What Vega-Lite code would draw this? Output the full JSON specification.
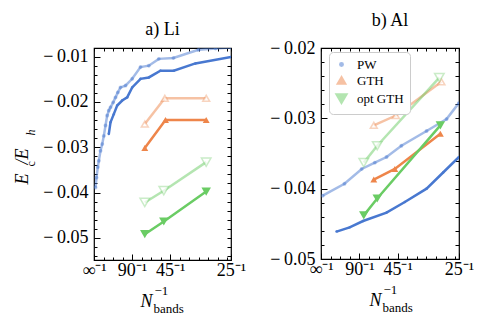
{
  "$schema": "https://vega.github.io/schema/vega-lite/v6.json",
  "padding": {"left": 12, "top": 11, "right": 5, "bottom": 5},
  "spacing": 22,
  "resolve": {"scale": {"color": "independent", "shape": "independent", "size": "independent"}, "legend": {"color": "independent"}},
  "config": {
    "font": "Liberation Serif",
    "view": {"stroke": "black", "strokeWidth": 1.2},
    "title": {"font": "Liberation Serif", "fontSize": 18, "fontWeight": "normal", "color": "black", "frame": "group", "anchor": "middle", "offset": 9},
    "axis": {"domain": false, "grid": false, "tickColor": "black", "tickWidth": 1, "labelColor": "black", "titleColor": "black", "labelFont": "Liberation Serif", "titleFont": "Liberation Serif", "titleFontWeight": "normal", "labelFontSize": 18, "labelFlush": false, "labelOverlap": false, "labelBound": false}
  },
  "datasets": {
    "li": [
      {"s": "PW", "v": "light", "x": 0.00044, "y": -0.0389},
      {"s": "PW", "v": "light", "x": 0.00073, "y": -0.0367},
      {"s": "PW", "v": "light", "x": 0.00111, "y": -0.0344},
      {"s": "PW", "v": "light", "x": 0.00141, "y": -0.0330},
      {"s": "PW", "v": "light", "x": 0.0019, "y": -0.0308},
      {"s": "PW", "v": "light", "x": 0.0024, "y": -0.0293},
      {"s": "PW", "v": "light", "x": 0.00287, "y": -0.0275},
      {"s": "PW", "v": "light", "x": 0.00336, "y": -0.0252},
      {"s": "PW", "v": "light", "x": 0.00385, "y": -0.0230},
      {"s": "PW", "v": "light", "x": 0.00433, "y": -0.0219},
      {"s": "PW", "v": "light", "x": 0.00482, "y": -0.0212},
      {"s": "PW", "v": "light", "x": 0.0056, "y": -0.0201},
      {"s": "PW", "v": "light", "x": 0.00628, "y": -0.0190},
      {"s": "PW", "v": "light", "x": 0.00696, "y": -0.0179},
      {"s": "PW", "v": "light", "x": 0.00774, "y": -0.0168},
      {"s": "PW", "v": "light", "x": 0.0092, "y": -0.0164},
      {"s": "PW", "v": "light", "x": 0.01115, "y": -0.0149},
      {"s": "PW", "v": "light", "x": 0.01358, "y": -0.0123},
      {"s": "PW", "v": "light", "x": 0.016, "y": -0.0120},
      {"s": "PW", "v": "light", "x": 0.01892, "y": -0.0105},
      {"s": "PW", "v": "light", "x": 0.0232, "y": -0.0103},
      {"s": "PW", "v": "light", "x": 0.0305, "y": -0.0085},
      {"s": "PW", "v": "light", "x": 0.0355, "y": -0.0082},
      {"s": "PW", "v": "light", "x": 0.04, "y": -0.0080},
      {"s": "PW", "v": "dark", "x": 0.00432, "y": -0.0271},
      {"s": "PW", "v": "dark", "x": 0.00482, "y": -0.0245},
      {"s": "PW", "v": "dark", "x": 0.00578, "y": -0.0227},
      {"s": "PW", "v": "dark", "x": 0.00677, "y": -0.0208},
      {"s": "PW", "v": "dark", "x": 0.00823, "y": -0.0197},
      {"s": "PW", "v": "dark", "x": 0.00969, "y": -0.0190},
      {"s": "PW", "v": "dark", "x": 0.01115, "y": -0.0168},
      {"s": "PW", "v": "dark", "x": 0.0136, "y": -0.0149},
      {"s": "PW", "v": "dark", "x": 0.016, "y": -0.0146},
      {"s": "PW", "v": "dark", "x": 0.0194, "y": -0.0131},
      {"s": "PW", "v": "dark", "x": 0.0233, "y": -0.0131},
      {"s": "PW", "v": "dark", "x": 0.0296, "y": -0.0115},
      {"s": "PW", "v": "dark", "x": 0.04, "y": -0.0101},
      {"s": "GTH", "v": "light", "x": 0.01483, "y": -0.0249},
      {"s": "GTH", "v": "light", "x": 0.02067, "y": -0.0192},
      {"s": "GTH", "v": "light", "x": 0.03276, "y": -0.0192},
      {"s": "GTH", "v": "dark", "x": 0.01483, "y": -0.0302},
      {"s": "GTH", "v": "dark", "x": 0.02088, "y": -0.0240},
      {"s": "GTH", "v": "dark", "x": 0.03276, "y": -0.0240},
      {"s": "opt GTH", "v": "light", "x": 0.01483, "y": -0.0422},
      {"s": "opt GTH", "v": "light", "x": 0.02038, "y": -0.0396},
      {"s": "opt GTH", "v": "light", "x": 0.03276, "y": -0.0333},
      {"s": "opt GTH", "v": "dark", "x": 0.01483, "y": -0.0492},
      {"s": "opt GTH", "v": "dark", "x": 0.02038, "y": -0.0464},
      {"s": "opt GTH", "v": "dark", "x": 0.03276, "y": -0.0398}
    ],
    "al": [
      {"s": "PW", "v": "light", "x": 0.0005, "y": -0.0410},
      {"s": "PW", "v": "light", "x": 0.0068, "y": -0.0393},
      {"s": "PW", "v": "light", "x": 0.0118, "y": -0.0372},
      {"s": "PW", "v": "light", "x": 0.0156, "y": -0.0363},
      {"s": "PW", "v": "light", "x": 0.0190, "y": -0.0355},
      {"s": "PW", "v": "light", "x": 0.0233, "y": -0.0339},
      {"s": "PW", "v": "light", "x": 0.0306, "y": -0.0318},
      {"s": "PW", "v": "light", "x": 0.0364, "y": -0.0301},
      {"s": "PW", "v": "light", "x": 0.04, "y": -0.0278},
      {"s": "PW", "v": "dark", "x": 0.0045, "y": -0.0461},
      {"s": "PW", "v": "dark", "x": 0.0083, "y": -0.0455},
      {"s": "PW", "v": "dark", "x": 0.0122, "y": -0.0446},
      {"s": "PW", "v": "dark", "x": 0.0190, "y": -0.0434},
      {"s": "PW", "v": "dark", "x": 0.0243, "y": -0.0419},
      {"s": "PW", "v": "dark", "x": 0.0306, "y": -0.0400},
      {"s": "PW", "v": "dark", "x": 0.0354, "y": -0.0377},
      {"s": "PW", "v": "dark", "x": 0.04, "y": -0.0355},
      {"s": "GTH", "v": "light", "x": 0.0153, "y": -0.0310},
      {"s": "GTH", "v": "light", "x": 0.0217, "y": -0.0296},
      {"s": "GTH", "v": "light", "x": 0.0349, "y": -0.0248},
      {"s": "GTH", "v": "dark", "x": 0.0153, "y": -0.0387},
      {"s": "GTH", "v": "dark", "x": 0.0214, "y": -0.0372},
      {"s": "GTH", "v": "dark", "x": 0.0346, "y": -0.0322},
      {"s": "opt GTH", "v": "light", "x": 0.0124, "y": -0.0363},
      {"s": "opt GTH", "v": "light", "x": 0.0163, "y": -0.0339},
      {"s": "opt GTH", "v": "light", "x": 0.0343, "y": -0.0242},
      {"s": "opt GTH", "v": "dark", "x": 0.0124, "y": -0.0438},
      {"s": "opt GTH", "v": "dark", "x": 0.0163, "y": -0.0414},
      {"s": "opt GTH", "v": "dark", "x": 0.0346, "y": -0.0310}
    ]
  },
  "hconcat": [
    {
      "width": 137, "height": 212,
      "title": {"text": "a) Li", "frame": "group", "anchor": "middle"},
      "data": {"name": "li"},
      "resolve": {"axis": {"x": "independent", "y": "independent"}},
      "layer": [
        {
          "transform": [{"filter": "datum.v == 'light'"}],
          "mark": {"type": "line", "strokeWidth": 2.5, "opacity": 0.5, "clip": true},
          "encoding": {
            "x": {"field": "x", "type": "quantitative", "scale": {"domain": [0, 0.04], "nice": false, "zero": false},
                  "axis": {"orient": "bottom", "values": [0, 0.0111111, 0.0222222, 0.04], "labelExpr": "datum.value == 0 ? '∞⁻¹' : datum.value < 0.015 ? '90⁻¹' : datum.value < 0.03 ? '45⁻¹' : '25⁻¹'", "tickSize": -6, "labelPadding": 7, "title": "N", "titleFontStyle": "italic", "titleFontSize": 18, "titleAlign": "left", "titleBaseline": "alphabetic", "titleX": 46, "titleY": 46}},
            "y": {"field": "y", "type": "quantitative", "scale": {"domain": [-0.0549, -0.0081], "nice": false, "zero": false},
                  "axis": {"orient": "left", "values": [-0.05, -0.04, -0.03, -0.02, -0.01], "labelExpr": "'−\u2009' + format(abs(datum.value), '.2f')", "tickSize": -6, "labelPadding": 12, "title": "E\u2002/E", "titleFontStyle": "italic", "titleFontSize": 18, "titleAngle": 270, "titleAlign": "left", "titleBaseline": "alphabetic", "titleX": -67, "titleY": 136}},
            "color": {"field": "s", "type": "nominal", "scale": {"domain": ["PW", "GTH", "opt GTH"], "range": ["#4878d0", "#ee854a", "#6acc64"]}, "legend": null}
          }
        },
        {
          "transform": [{"filter": "datum.v == 'dark'"}],
          "mark": {"type": "line", "strokeWidth": 2.5, "clip": true},
          "encoding": {
            "x": {"field": "x", "type": "quantitative", "axis": {"orient": "top", "values": [0, 0.0027778, 0.0055556, 0.0083333, 0.0111111, 0.0138889, 0.0166667, 0.0194444, 0.0222222, 0.025, 0.0277778, 0.0305556, 0.0333333, 0.0361111, 0.0388889, 0.04], "labels": false, "tickSize": -3, "title": null}},
            "y": {"field": "y", "type": "quantitative", "axis": {"orient": "left", "values": [-0.054, -0.052, -0.048, -0.046, -0.044, -0.042, -0.038, -0.036, -0.034, -0.032, -0.028, -0.026, -0.024, -0.022, -0.018, -0.016, -0.014, -0.012], "labels": false, "tickSize": -3, "title": "c", "titleFontSize": 12, "titleAngle": 270, "titleAlign": "left", "titleBaseline": "alphabetic", "titleX": -60, "titleY": 118}},
            "color": {"field": "s", "type": "nominal", "legend": null}
          }
        },
        {
          "transform": [{"filter": "datum.v == 'light'"}],
          "mark": {"type": "point", "filled": false, "strokeOpacity": 0.5, "strokeWidth": 1.5, "clip": true},
          "encoding": {
            "x": {"field": "x", "type": "quantitative", "axis": {"orient": "bottom", "values": [0.0027778, 0.0055556, 0.0083333, 0.0138889, 0.0166667, 0.0194444, 0.025, 0.0277778, 0.0305556, 0.0333333, 0.0361111, 0.0388889], "labels": false, "tickSize": -3, "title": "bands", "titleFontSize": 13, "titleAlign": "left", "titleBaseline": "alphabetic", "titleX": 59, "titleY": 52}},
            "y": {"field": "y", "type": "quantitative", "axis": {"orient": "right", "values": [-0.054, -0.052, -0.05, -0.048, -0.046, -0.044, -0.042, -0.04, -0.038, -0.036, -0.034, -0.032, -0.03, -0.028, -0.026, -0.024, -0.022, -0.02, -0.018, -0.016, -0.014, -0.012, -0.01], "labels": false, "tickSize": -4, "title": null}},
            "color": {"field": "s", "type": "nominal", "legend": null},
            "fill": {"condition": {"test": "datum.s == 'PW'", "value": "#4878d0"}, "value": "white"},
            "fillOpacity": {"condition": {"test": "datum.s == 'PW'", "value": 0.5}, "value": 1},
            "shape": {"field": "s", "type": "nominal", "scale": {"domain": ["PW", "GTH", "opt GTH"], "range": ["circle", "triangle-up", "triangle-down"]}, "legend": null},
            "size": {"field": "s", "type": "nominal", "scale": {"domain": ["PW", "GTH", "opt GTH"], "range": [6, 90, 90]}, "legend": null}
          }
        },
        {
          "transform": [{"filter": "datum.v == 'dark'"}],
          "mark": {"type": "point", "filled": true, "opacity": 1, "clip": true},
          "encoding": {
            "x": {"field": "x", "type": "quantitative", "axis": {"orient": "bottom", "ticks": false, "labels": false, "title": "−1", "titleFontSize": 13, "titleAlign": "left", "titleBaseline": "alphabetic", "titleX": 60, "titleY": 34}},
            "y": {"field": "y", "type": "quantitative", "axis": {"orient": "left", "ticks": false, "labels": false, "title": "h", "titleFontStyle": "italic", "titleFontSize": 12, "titleAngle": 270, "titleAlign": "left", "titleBaseline": "alphabetic", "titleX": -60, "titleY": 87}},
            "color": {"field": "s", "type": "nominal", "legend": null},
            "shape": {"field": "s", "type": "nominal", "legend": null},
            "size": {"field": "s", "type": "nominal", "legend": null}
          }
        }
      ]
    },
    {
      "width": 138, "height": 211,
      "title": {"text": "b) Al", "frame": "group", "anchor": "middle"},
      "data": {"name": "al"},
      "resolve": {"axis": {"x": "independent", "y": "independent"}},
      "layer": [
        {
          "transform": [{"filter": "datum.v == 'light'"}],
          "mark": {"type": "line", "strokeWidth": 2.5, "opacity": 0.5, "clip": true},
          "encoding": {
            "x": {"field": "x", "type": "quantitative", "scale": {"domain": [0, 0.04], "nice": false, "zero": false},
                  "axis": {"orient": "bottom", "values": [0, 0.0111111, 0.0222222, 0.04], "labelExpr": "datum.value == 0 ? '∞⁻¹' : datum.value < 0.015 ? '90⁻¹' : datum.value < 0.03 ? '45⁻¹' : '25⁻¹'", "tickSize": -6, "labelPadding": 7, "title": "N", "titleFontStyle": "italic", "titleFontSize": 18, "titleAlign": "left", "titleBaseline": "alphabetic", "titleX": 48, "titleY": 46}},
            "y": {"field": "y", "type": "quantitative", "scale": {"domain": [-0.05, -0.02], "nice": false, "zero": false},
                  "axis": {"orient": "left", "values": [-0.05, -0.04, -0.03, -0.02], "labelExpr": "'−\u2009' + format(abs(datum.value), '.2f')", "tickSize": -6, "labelPadding": 12, "title": null}},
            "color": {"field": "s", "type": "nominal", "scale": {"domain": ["PW", "GTH", "opt GTH"], "range": ["#4878d0", "#ee854a", "#6acc64"]},
              "legend": {"orient": "none", "legendX": 8, "legendY": 4, "title": null, "labelFont": "Liberation Serif", "labelFontSize": 13, "labelColor": "black", "symbolSize": 380, "symbolStrokeWidth": 2.5, "rowPadding": 0, "labelOffset": 9, "padding": 6, "cornerRadius": 4, "strokeColor": "#cccccc", "fillColor": "white",
                "encode": {"symbols": {
                  "shape": {"value": {"expr": "datum.value === 'PW' ? 'M-1.1,0L1.1,0M-0.15,0a0.15,0.15 0 1,0 0.3,0a0.15,0.15 0 1,0 -0.3,0Z' : datum.value === 'GTH' ? 'M-1.1,0L1.1,0M0,-0.45L0.5,0.4L-0.5,0.4Z' : 'M-1.1,0L1.1,0M0,0.45L0.5,-0.4L-0.5,-0.4Z'"}},
                  "fill": {"value": {"expr": "datum.value === 'PW' ? '#4878d0' : datum.value === 'GTH' ? '#ee854a' : '#6acc64'"}},
                  "stroke": {"value": {"expr": "datum.value === 'PW' ? '#4878d0' : datum.value === 'GTH' ? '#ee854a' : '#6acc64'"}},
                  "opacity": {"value": 1}, "fillOpacity": {"value": 1}, "strokeOpacity": {"value": 1}
                }}}
            }
          }
        },
        {
          "transform": [{"filter": "datum.v == 'dark'"}],
          "mark": {"type": "line", "strokeWidth": 2.5, "clip": true},
          "encoding": {
            "x": {"field": "x", "type": "quantitative", "axis": {"orient": "top", "values": [0, 0.0027778, 0.0055556, 0.0083333, 0.0111111, 0.0138889, 0.0166667, 0.0194444, 0.0222222, 0.025, 0.0277778, 0.0305556, 0.0333333, 0.0361111, 0.0388889, 0.04], "labels": false, "tickSize": -3, "title": null}},
            "y": {"field": "y", "type": "quantitative", "axis": {"orient": "left", "values": [-0.048, -0.046, -0.044, -0.042, -0.038, -0.036, -0.034, -0.032, -0.028, -0.026, -0.024, -0.022], "labels": false, "tickSize": -3, "title": null}},
            "color": {"field": "s", "type": "nominal", "legend": null}
          }
        },
        {
          "transform": [{"filter": "datum.v == 'light'"}],
          "mark": {"type": "point", "filled": false, "strokeOpacity": 0.5, "strokeWidth": 1.5, "clip": true},
          "encoding": {
            "x": {"field": "x", "type": "quantitative", "axis": {"orient": "bottom", "values": [0.0027778, 0.0055556, 0.0083333, 0.0138889, 0.0166667, 0.0194444, 0.025, 0.0277778, 0.0305556, 0.0333333, 0.0361111, 0.0388889], "labels": false, "tickSize": -3, "title": "bands", "titleFontSize": 13, "titleAlign": "left", "titleBaseline": "alphabetic", "titleX": 61, "titleY": 52}},
            "y": {"field": "y", "type": "quantitative", "axis": {"orient": "right", "values": [-0.05, -0.048, -0.046, -0.044, -0.042, -0.04, -0.038, -0.036, -0.034, -0.032, -0.03, -0.028, -0.026, -0.024, -0.022, -0.02], "labels": false, "tickSize": -4, "title": null}},
            "color": {"field": "s", "type": "nominal", "legend": null},
            "fill": {"condition": {"test": "datum.s == 'PW'", "value": "#4878d0"}, "value": "white"},
            "fillOpacity": {"condition": {"test": "datum.s == 'PW'", "value": 0.5}, "value": 1},
            "shape": {"field": "s", "type": "nominal", "scale": {"domain": ["PW", "GTH", "opt GTH"], "range": ["circle", "triangle-up", "triangle-down"]}, "legend": null},
            "size": {"field": "s", "type": "nominal", "scale": {"domain": ["PW", "GTH", "opt GTH"], "range": [6, 90, 90]}, "legend": null}
          }
        },
        {
          "transform": [{"filter": "datum.v == 'dark'"}],
          "mark": {"type": "point", "filled": true, "opacity": 1, "clip": true},
          "encoding": {
            "x": {"field": "x", "type": "quantitative", "axis": {"orient": "bottom", "ticks": false, "labels": false, "title": "−1", "titleFontSize": 13, "titleAlign": "left", "titleBaseline": "alphabetic", "titleX": 62, "titleY": 34}},
            "y": {"field": "y", "type": "quantitative", "axis": null},
            "color": {"field": "s", "type": "nominal", "legend": null},
            "shape": {"field": "s", "type": "nominal", "legend": null},
            "size": {"field": "s", "type": "nominal", "legend": null}
          }
        }
      ]
    }
  ]
}
